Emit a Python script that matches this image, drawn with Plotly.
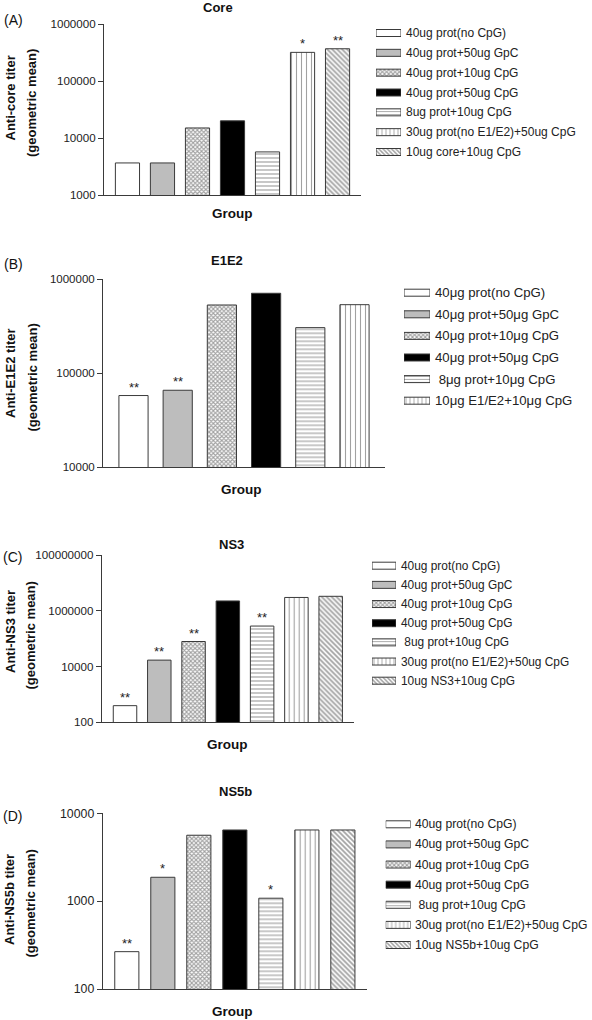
import math
import plotly.graph_objects as go

# ---------------- data ----------------
core_labels = ["40ug prot(no CpG)", "40ug prot+50ug GpC", "40ug prot+10ug CpG",
               "40ug prot+50ug CpG", "8ug prot+10ug CpG",
               "30ug prot(no E1/E2)+50ug CpG", "10ug core+10ug CpG"]
core_values = [3650, 3650, 15000, 20000, 5700, 318000, 368000]
core_stars = ["", "", "", "", "", "*", "**"]
core_ticks = [1000, 10000, 100000, 1000000]

e1e2_labels = ["40\u03bcg prot(no CpG)", "40\u03bcg prot+50\u03bcg GpC", "40\u03bcg prot+10\u03bcg CpG",
               "40\u03bcg prot+50\u03bcg CpG", "\u00a08\u03bcg prot+10\u03bcg CpG",
               "10\u03bcg E1/E2+10\u03bcg CpG"]
e1e2_values = [58000, 66000, 533000, 710000, 306000, 537000]
e1e2_stars = ["**", "**", "", "", "", ""]
e1e2_ticks = [10000, 100000, 1000000]

ns3_labels = ["40ug prot(no CpG)", "40ug prot+50ug GpC", "40ug prot+10ug CpG",
              "40ug prot+50ug CpG", "\u00a08ug prot+10ug CpG",
              "30ug prot(no E1/E2)+50ug CpG", "10ug NS3+10ug CpG"]
ns3_values = [395, 17000, 79000, 2250000, 283000, 3000000, 3300000]
ns3_stars = ["**", "**", "**", "", "**", "", ""]
ns3_ticks = [100, 10000, 1000000, 100000000]

ns5b_labels = ["40ug prot(no CpG)", "40ug prot+50ug GpC", "40ug prot+10ug CpG",
               "40ug prot+50ug CpG", "\u00a08ug prot+10ug CpG",
               "30ug prot(no E1/E2)+50ug CpG", "10ug NS5b+10ug CpG"]
ns5b_values = [266, 1870, 5630, 6460, 1080, 6460, 6460]
ns5b_stars = ["**", "*", "", "", "*", "", ""]
ns5b_ticks = [100, 1000, 10000]

# ---------------- styles ----------------
W, H = 592, 1020
FONT = "Liberation Sans, Arial, Helvetica, sans-serif"
INK = "#3a3a3a"
FILLS = ["white", "#bdbdbd", "white", "black", "white", "white", "white"]
SHAPES = ["", "", "x", "", "-", "|", "\\"]
PSIZE = [6, 6, 3, 6, 4, 5, 3.5]
PSOLID = [0.3, 0.3, 0.6, 0.3, 0.3, 0.22, 0.5]
LSIZE = [6, 6, 3, 6, 3, 4, 3]


def px(x):
    return x / W


def py(y):
    return 1 - y / H


panels = [
    dict(letter="(A)", title="Core", yt1="Anti-core titer", labels=core_labels,
         values=core_values, stars=core_stars, ticks=core_ticks, tick_font=11.6,
         plot=(104, 361, 24, 195), yr=(3, 6), xr=(-0.67, 6.67), bw=0.69,
         title_xy=(218, 7.5), letter_xy=(13, 20), yt_x=(10, 31.5), yt_y=(98.5, 103.5),
         group_xy=(232, 213), leg_x=(376, 401), leg_text_x=405, leg_rows=(33, 152), leg_font=12),
    dict(letter="(B)", title="E1E2", yt1="Anti-E1E2 titer", labels=e1e2_labels,
         values=e1e2_values, stars=e1e2_stars, ticks=e1e2_ticks, tick_font=11.5,
         plot=(103, 385, 279.3, 467.3), yr=(4, 6), xr=(-0.69, 5.69), bw=0.66,
         title_xy=(227, 260.5), letter_xy=(13, 264), yt_x=(10, 32), yt_y=(373, 377.5),
         group_xy=(241, 489), leg_x=(404, 430), leg_text_x=434, leg_rows=(292.7, 400.7), leg_font=13.2),
    dict(letter="(C)", title="NS3", yt1="Anti-NS3 titer", labels=ns3_labels,
         values=ns3_values, stars=ns3_stars, ticks=ns3_ticks, tick_font=11.6,
         plot=(101.7, 354, 555, 722.3), yr=(2, 8), xr=(-0.68, 6.68), bw=0.685,
         title_xy=(231, 544), letter_xy=(12, 557), yt_x=(10, 29.5), yt_y=(632, 636),
         group_xy=(227, 744), leg_x=(372, 396), leg_text_x=400, leg_rows=(565.7, 680.7), leg_font=11.9),
    dict(letter="(D)", title="NS5b", yt1="Anti-NS5b titer", labels=ns5b_labels,
         values=ns5b_values, stars=ns5b_stars, ticks=ns5b_ticks, tick_font=12.3,
         plot=(102.7, 367, 813.3, 989), yr=(2, 4), xr=(-0.67, 6.67), bw=0.67,
         title_xy=(235, 791), letter_xy=(12, 816), yt_x=(9, 30), yt_y=(900, 903.5),
         group_xy=(232, 1011), leg_x=(385.7, 410.7), leg_text_x=414, leg_rows=(824.3, 945), leg_font=12.2),
]

fig = go.Figure()
layout = {}
annotations = []

for k, p in enumerate(panels):
    n = len(p["values"])
    x0, x1, y0, y1 = p["plot"]
    xa = "x" if k == 0 else f"x{k + 1}"
    ya = "y" if k == 0 else f"y{k + 1}"
    xkey = "xaxis" if k == 0 else f"xaxis{k + 1}"
    ykey = "yaxis" if k == 0 else f"yaxis{k + 1}"

    fig.add_trace(go.Bar(
        x=list(range(n)), y=p["values"], xaxis=xa, yaxis=ya, width=p["bw"],
        marker=dict(color=FILLS[:n], line=dict(color=INK, width=1),
                    pattern=dict(shape=SHAPES[:n], size=PSIZE[:n], solidity=PSOLID[:n],
                                 fgcolor="#222", fillmode="overlay")),
        showlegend=False, hoverinfo="skip"))

    layout[xkey] = dict(domain=[px(x0), px(x1)], range=list(p["xr"]), anchor=ya,
                        showline=True, linecolor=INK, linewidth=1, showgrid=False,
                        zeroline=False, ticks="", showticklabels=False, fixedrange=True,
                        automargin=False)
    layout[ykey] = dict(domain=[py(y1), py(y0)], type="log", range=list(p["yr"]), anchor=xa,
                        showline=True, linecolor=INK, linewidth=1, showgrid=False,
                        zeroline=False, ticks="outside", ticklen=5, tickcolor=INK,
                        tickvals=p["ticks"], ticktext=[str(t) for t in p["ticks"]],
                        tickfont=dict(family=FONT, size=p["tick_font"], color="#222"),
                        fixedrange=True, automargin=False)

    # significance stars
    for i, (v, s) in enumerate(zip(p["values"], p["stars"])):
        if s:
            annotations.append(dict(x=i, y=math.log10(v), xref=xa, yref=ya, text=s,
                                    showarrow=False, yanchor="bottom", yshift=-1,
                                    font=dict(family=FONT, size=13, color="#222")))

    # legend swatches: horizontal bars on a hidden axis, text as annotations
    lk = k + 5
    lxa, lya = f"x{lk}", f"y{lk}"
    r0, r1 = p["leg_rows"]
    step = (r1 - r0) / (n - 1)
    fig.add_trace(go.Bar(
        y=p["labels"], x=[1] * n, orientation="h", xaxis=lxa, yaxis=lya, width=7 / step,
        marker=dict(color=FILLS[:n], line=dict(color=INK, width=1),
                    pattern=dict(shape=SHAPES[:n], size=LSIZE[:n],
                                 solidity=PSOLID[:n], fgcolor="#222", fillmode="overlay")),
        showlegend=False, hoverinfo="skip"))
    lx0, lx1 = p["leg_x"]
    layout[f"xaxis{lk}"] = dict(domain=[px(lx0), px(lx1)], range=[0, 1], anchor=lya,
                                visible=False, fixedrange=True, automargin=False)
    layout[f"yaxis{lk}"] = dict(domain=[py(r1 + step / 2), py(r0 - step / 2)], anchor=lxa,
                                type="category", autorange="reversed", visible=False,
                                fixedrange=True, automargin=False)
    for lab in p["labels"]:
        annotations.append(dict(x=px(p["leg_text_x"]), y=lab, xref="paper", yref=lya, text=lab,
                                showarrow=False, xanchor="left", yanchor="middle", borderpad=0,
                                font=dict(family=FONT, size=p["leg_font"], color="#222")))

    # texts
    tx, ty = p["title_xy"]
    annotations.append(dict(x=px(tx), y=py(ty), xref="paper", yref="paper", text=f"<b>{p['title']}</b>",
                            showarrow=False, xanchor="center", yanchor="middle",
                            font=dict(family=FONT, size=13, color="#111")))
    lxp, lyp = p["letter_xy"]
    annotations.append(dict(x=px(lxp), y=py(lyp), xref="paper", yref="paper", text=p["letter"],
                            showarrow=False, xanchor="center", yanchor="middle",
                            font=dict(family=FONT, size=14, color="#111")))
    gx, gy = p["group_xy"]
    annotations.append(dict(x=px(gx), y=py(gy), xref="paper", yref="paper", text="<b>Group</b>",
                            showarrow=False, xanchor="center", yanchor="middle",
                            font=dict(family=FONT, size=13.5, color="#111")))
    for txt, xx, yy in [(p["yt1"], p["yt_x"][0], p["yt_y"][0]),
                        ("(geometric mean)", p["yt_x"][1], p["yt_y"][1])]:
        annotations.append(dict(x=px(xx), y=py(yy), xref="paper", yref="paper", text=f"<b>{txt}</b>",
                                showarrow=False, xanchor="center", yanchor="middle", textangle=-90,
                                font=dict(family=FONT, size=13, color="#111")))

fig.update_layout(**layout)
fig.update_layout(template="none", width=W, height=H, autosize=False,
                  margin=dict(l=0, r=0, t=0, b=0, pad=0),
                  paper_bgcolor="white", plot_bgcolor="white",
                  bargap=0, annotations=annotations, showlegend=False,
                  font=dict(family=FONT, color="#222"))

fig.write_html("out.html", config={"displayModeBar": False, "staticPlot": True},
               post_script="document.body.style.margin='0';document.body.style.overflow='hidden';")
